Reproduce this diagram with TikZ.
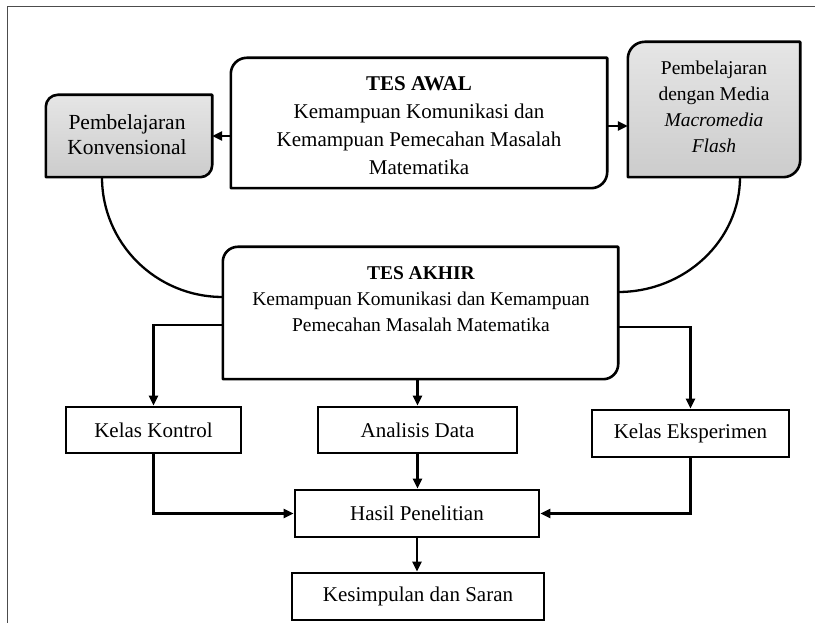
\documentclass[tikz,border=0pt]{standalone}
\usepackage{fontspec}
\setmainfont{Liberation Serif}
\usetikzlibrary{arrows.meta,calc}
\tikzset{
  boxline/.style={line width=2.6pt, line join=round},
  plainbox/.style={draw, line width=2.6pt, inner sep=0pt, align=center, font=\fontsize{21}{25}\selectfont},
  ghost/.style={inner sep=0pt, align=center},
  conn/.style={line width=2.3pt},
  arr/.style={line width=2.3pt, -{Triangle[length=10pt,width=9pt]}},
  grayfill/.style={top color=gray!20, bottom color=gray!40},
}
\newcommand\tlbrbox[3][]{% #2 node name, #3 radius
  \path[boxline,draw,#1] (#2.south west) -- ([yshift=-#3]#2.north west)
    arc[start angle=180,end angle=90,radius=#3] -- (#2.north east)
    -- ([yshift=#3]#2.south east) arc[start angle=0,end angle=-90,radius=#3] -- cycle;}
\begin{document}
\begin{tikzpicture}[x=1pt,y=1pt]
\useasboundingbox (0,0) rectangle (815,623);
% frame
\draw[line width=0.9pt, black!70] (7,0) -- (7,617) -- (815,617);

% rounded boxes (outlines drawn separately)
\node[ghost, minimum width=376pt, minimum height=130pt] (awal) at (419,500) {};
\node[ghost, minimum width=166pt, minimum height=82pt] (konv) at (129,487) {};
\node[ghost, minimum width=172pt, minimum height=135pt] (flash) at (714,513.5) {};
\node[ghost, minimum width=395pt, minimum height=132pt] (akhir) at (420.5,310) {};

\tlbrbox{awal}{16pt}
\tlbrbox[grayfill]{konv}{12pt}
\tlbrbox[grayfill]{flash}{17pt}
\tlbrbox{akhir}{15pt}

\node[ghost, font=\fontsize{21}{28}\selectfont] (awaltxt) at (419,497)
  {\textbf{TES AWAL}\\Kemampuan Komunikasi dan\\Kemampuan Pemecahan Masalah\\Matematika};
\node[ghost, font=\fontsize{21.5}{25}\selectfont] (konvtxt) at (127,488)
  {Pembelajaran\\Konvensional};
\node[ghost, font=\fontsize{19.5}{26}\selectfont] (flashtxt) at (714,516)
  {Pembelajaran\\dengan Media\\\textit{Macromedia}\\\textit{Flash}};
\node[ghost, font=\fontsize{19.5}{26}\selectfont] (akhirtxt) at (421,324)
  {\textbf{TES AKHIR}\\Kemampuan Komunikasi dan Kemampuan\\Pemecahan Masalah Matematika};

% rectangular boxes
\node[plainbox, minimum width=175pt, minimum height=46pt] (kontrol) at (153.5,193) {Kelas Kontrol};
\node[plainbox, minimum width=199pt, minimum height=46pt] (analisis) at (417.5,193) {Analisis Data};
\node[plainbox, minimum width=197pt, minimum height=47pt] (eksperimen) at (690.5,189.5) {Kelas Eksperimen};
\node[plainbox, minimum width=244pt, minimum height=47pt] (hasil) at (417,109.5) {Hasil Penelitian};
\node[plainbox, minimum width=252pt, minimum height=47pt] (kesimpulan) at (418,26.5) {Kesimpulan dan Saran};

% connectors
\draw[arr] (awal.west |- konv.east) -- (konv.east);
\draw[arr] ([yshift=-3pt]awal.east) -- ([yshift=-3pt]awal.east -| flash.west);
\draw[conn] ([xshift=-27pt]konv.south) .. controls +(0,-66) and +(-67,0) .. ([yshift=16pt]akhir.west);
\draw[conn] ([xshift=26pt]flash.south) .. controls +(0,-63) and +(67,0) .. ([yshift=21pt]akhir.east);
\draw[arr] ([yshift=-12pt]akhir.west) -| (kontrol.north);
\draw[arr] ([yshift=-14pt]akhir.east) -| (eksperimen.north);
\draw[arr] (analisis.north |- akhir.south) -- (analisis.north);
\draw[arr] (analisis.south) -- (analisis.south |- hasil.north);
\draw[arr] (hasil.south) -- (hasil.south |- kesimpulan.north);
\draw[arr] (kontrol.south) |- (hasil.west);
\draw[arr] (eksperimen.south) |- (hasil.east);
\end{tikzpicture}
\end{document}
